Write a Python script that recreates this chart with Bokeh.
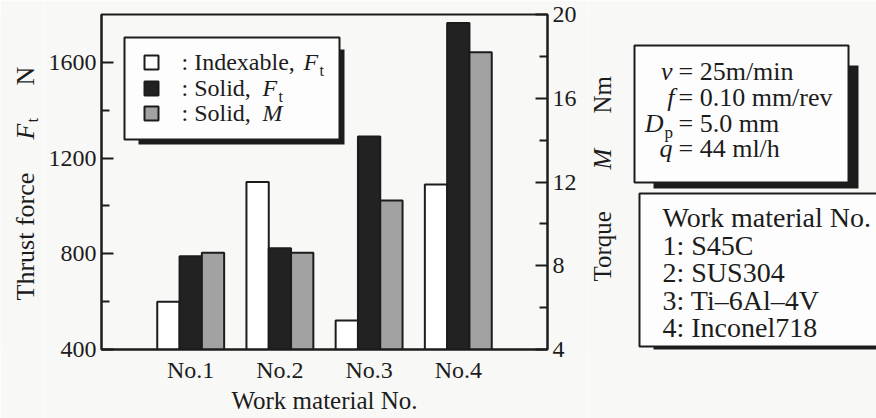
from math import pi
from bokeh.plotting import figure
from bokeh.models import Range1d, LinearAxis, FixedTicker, Label, ColumnDataSource
from bokeh.layouts import row
from bokeh.transform import dodge
from bokeh.embed import file_html
from bokeh.resources import INLINE

# ---------------- data ----------------
materials = ["No.1", "No.2", "No.3", "No.4"]
positions = [1, 2, 3, 4]
indexable_ft = [600, 1100, 521, 1090]      # N
solid_ft = [790, 823, 1290, 1765]          # N
solid_m = [8.62, 8.62, 11.12, 18.2]        # Nm

left_ticks = [400, 800, 1200, 1600]
left_minor = [600, 1000, 1400]
right_ticks = [4, 8, 12, 16, 20]
right_minor = [6, 10, 14, 18]

legend_labels = [": Indexable,", ": Solid,", ": Solid,"]
condition_symbols = ["v", "f", "D", "q"]
condition_values = ["= 25m/min", "= 0.10 mm/rev", "= 5.0 mm", "= 44 ml/h"]
material_lines = ["Work material No.", "1: S45C", "2: SUS304",
                  "3: Ti\u20136Al\u20134V", "4: Inconel718"]

# ---------------- style / layout ----------------
FONT = "Liberation Serif"
INK = "#1c1c1c"
BG = "#f8f8f6"
BOXBG = "#fdfdfd"
BLACK_BAR = "#222222"
GRAY_BAR = "#a2a2a2"

TOTAL_W, H = 876, 418
LEFT_W = 44                     # strip holding the left axis title
FL, FT, FW, FH = 101, 14, 446, 335
MAIN_R = 588                    # right edge of the main canvas
X0, X1 = 0, 5
Y0, Y1 = 400, 1800


def dx(px):
    return X0 + (px - FL) / FW * (X1 - X0)


def dy(py):
    return Y0 + (FT + FH - py) / FH * (Y1 - Y0)


def mid(base_px, size):
    # page-pixel centre of a line of text whose baseline sits at base_px
    return base_px - 0.34 * size


def lab(fig, x, y, text, size=24, style="normal", align="left", angle=0.0):
    fig.add_layout(Label(x=x, y=y, text=text, text_font=FONT,
                         text_font_size=f"{size}px", text_font_style=style,
                         text_color=INK, text_align=align, text_baseline="middle",
                         angle=angle))


def strip(x_left, x_right):
    # side panel whose frame lines up with the main frame; data units = page pixels
    f = figure(frame_width=x_right - x_left, frame_height=FH,
               min_border_left=0, min_border_right=0,
               min_border_top=FT, min_border_bottom=H - FT - FH,
               x_range=Range1d(x_left, x_right), y_range=Range1d(FT + FH, FT),
               output_backend="svg", toolbar_location=None,
               x_axis_location=None, y_axis_location=None,
               background_fill_color=BG, border_fill_color=BG, outline_line_color=None)
    f.grid.visible = False
    return f


# ---------------- main chart ----------------
p = figure(frame_width=FW, frame_height=FH,
           min_border_left=FL - LEFT_W, min_border_top=FT,
           min_border_right=MAIN_R - FL - FW,
           min_border_bottom=H - FT - FH,
           x_range=Range1d(X0, X1), y_range=Range1d(Y0, Y1),
           output_backend="svg", toolbar_location=None,
           background_fill_color=BG, border_fill_color=BG,
           outline_line_color=INK, outline_line_width=2)
p.grid.visible = False

p.extra_y_ranges = {"torque": Range1d(4, 20)}
rax = LinearAxis(y_range_name="torque",
                 ticker=FixedTicker(ticks=right_ticks, minor_ticks=right_minor))
p.add_layout(rax, "right")

p.xaxis.ticker = FixedTicker(ticks=positions)
p.xaxis.major_label_overrides = {k: v for k, v in zip(positions, materials)}
p.xaxis.major_tick_in = 0
p.xaxis.major_tick_out = 0
p.xaxis.minor_tick_in = 0
p.xaxis.minor_tick_out = 0
p.xaxis.major_label_standoff = 7
p.xaxis.axis_label = "Work material No."
p.xaxis.axis_label_standoff = 1
p.xaxis.axis_label_text_font = FONT
p.xaxis.axis_label_text_font_size = "25px"
p.xaxis.axis_label_text_font_style = "normal"
p.xaxis.axis_label_text_color = INK

p.yaxis[0].ticker = FixedTicker(ticks=left_ticks, minor_ticks=left_minor)
for ax in p.yaxis:
    ax.major_tick_in = 12
    ax.major_tick_out = 0
    ax.minor_tick_in = 8
    ax.minor_tick_out = 0
    ax.major_label_standoff = 5
for ax in list(p.xaxis) + list(p.yaxis):
    ax.axis_line_color = INK
    ax.axis_line_width = 2
    ax.major_tick_line_color = INK
    ax.major_tick_line_width = 2
    ax.minor_tick_line_color = INK
    ax.minor_tick_line_width = 2
    ax.major_label_text_font = FONT
    ax.major_label_text_font_size = "24px"
    ax.major_label_text_color = INK

src = ColumnDataSource(dict(x=positions, ind=indexable_ft, sft=solid_ft, sm=solid_m))
p.vbar(x=dodge("x", -0.25), top="ind", bottom=Y0, width=0.25, source=src,
       fill_color="white", line_color=INK, line_width=2)
p.vbar(x="x", top="sft", bottom=Y0, width=0.25, source=src,
       fill_color=BLACK_BAR, line_color=INK, line_width=2)
p.vbar(x=dodge("x", 0.25), top="sm", bottom=4, width=0.25, source=src,
       y_range_name="torque", fill_color=GRAY_BAR, line_color=INK, line_width=2)

# legend (inside the frame)
p.quad(left=[dx(138)], right=[dx(344)], top=[dy(49)], bottom=[dy(144)],
       fill_color=INK, line_color=None)
p.quad(left=[dx(124)], right=[dx(339)], top=[dy(37)], bottom=[dy(139)],
       fill_color=BOXBG, line_color=INK, line_width=2)
sw_fill = ["white", BLACK_BAR, GRAY_BAR]
base = [70, 96, 121]
for i in range(3):
    b = base[i]
    p.quad(left=[dx(144)], right=[dx(158)], top=[dy(b - 15)], bottom=[dy(b - 1)],
           fill_color=sw_fill[i], line_color=INK, line_width=2)
    lab(p, dx(181), dy(mid(b, 24)), legend_labels[i], size=24)
lab(p, dx(303), dy(mid(70, 24)), "F", size=24, style="italic")
lab(p, dx(319), dy(mid(75, 16)), "t", size=16)
lab(p, dx(262), dy(mid(96, 24)), "F", size=24, style="italic")
lab(p, dx(278), dy(mid(101, 16)), "t", size=16)
lab(p, dx(262), dy(mid(121, 24)), "M", size=24, style="italic")

# ---------------- left strip: thrust force title ----------------
pl = strip(0, LEFT_W)
lab(pl, 25, 300, "Thrust force", size=26, angle=pi / 2)
lab(pl, 25, 139, "F", size=26, style="italic", angle=pi / 2)
lab(pl, 32, 122, "t", size=17, angle=pi / 2)
lab(pl, 25, 85, "N", size=26, angle=pi / 2)

# ---------------- right strip: torque title and boxes ----------------
p2 = strip(MAIN_R, TOTAL_W)
lab(p2, 602, 281, "Torque", size=25, angle=pi / 2)
lab(p2, 602, 169, "M", size=25, style="italic", angle=pi / 2)
lab(p2, 602, 113, "Nm", size=25, angle=pi / 2)

# conditions box
p2.quad(left=[653], right=[858], top=[65], bottom=[188], fill_color=INK, line_color=None)
p2.quad(left=[634], right=[848], top=[45], bottom=[182],
        fill_color=BOXBG, line_color=INK, line_width=2)
cb = [80, 106, 132, 157]
sym_right = [672, 674, 663, 672]
for i in range(4):
    if condition_symbols[i] == "D":
        lab(p2, sym_right[i], mid(cb[i], 26), "D", size=26, style="italic", align="right")
        lab(p2, sym_right[i] + 1, mid(cb[i] + 6, 17), "p", size=17)
    else:
        lab(p2, sym_right[i], mid(cb[i], 26), condition_symbols[i], size=26,
            style="italic", align="right")
    lab(p2, 678, mid(cb[i], 26), condition_values[i], size=26)

# materials box
p2.quad(left=[653], right=[890], top=[198], bottom=[352], fill_color=INK, line_color=None)
p2.quad(left=[639], right=[885], top=[193], bottom=[346],
        fill_color=BOXBG, line_color=INK, line_width=2)
mb = [227, 254.5, 282, 309.5, 337]
for i, t in enumerate(material_lines):
    lab(p2, 662, mid(mb[i], 28), t, size=28)

layout = row(pl, p, p2)
open("out.html", "w").write(file_html(layout, INLINE))
